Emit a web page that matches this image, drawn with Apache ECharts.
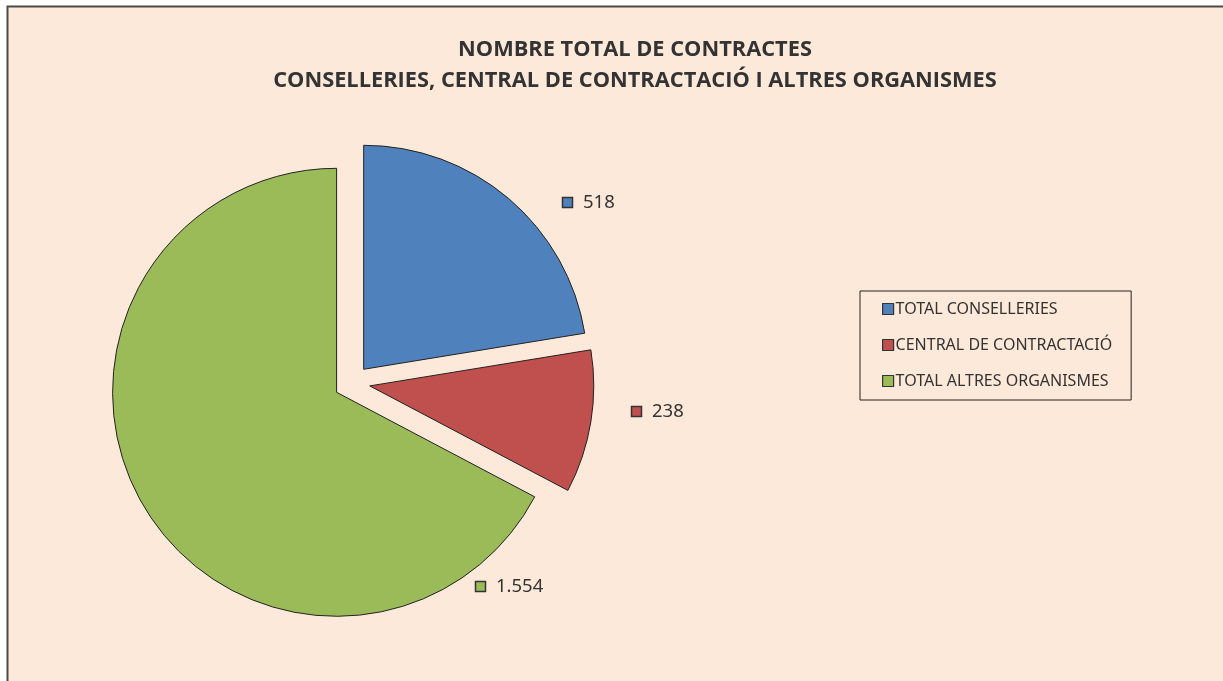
<!DOCTYPE html>
<html lang="ca">
<head>
    <meta charset="UTF-8">
    <title>Nombre total de contractes</title>
    <script src="https://cdn.jsdelivr.net/npm/echarts@6/dist/echarts.min.js"></script>
    <style>
        html, body { margin: 0; padding: 0; background: #ffffff; }
        #main { width: 1223px; height: 681px; }
    </style>
</head>
<body>
<div id="main"></div>
<script type="text/javascript">
    // dades
    var categories = ['TOTAL CONSELLERIES', 'CENTRAL DE CONTRACTACIÓ', 'TOTAL ALTRES ORGANISMES'];
    var values = [518, 238, 1554];
    var colors = ['#4F81BD', '#C0504D', '#9BBB59'];

    // posicio de les etiquetes de valor (quadret + numero), com a l'Excel
    var labelPos = [[562, 203], [631, 412], [475, 587]];

    function fmt(v) {
        return String(v).replace(/\B(?=(\d{3})+(?!\d))/g, '.');
    }

    var pieData = [];
    for (var i = 0; i < categories.length; i++) {
        pieData.push({
            name: categories[i],
            value: values[i],
            selected: true,
            itemStyle: { color: colors[i] }
        });
    }

    // fons del grafic + etiquetes
    var graphics = [{
        type: 'rect',
        z: -10,
        shape: { x: 7.5, y: 6.5, width: 1400, height: 800 },
        style: { fill: '#FDE9D9', stroke: '#4a4a4a', lineWidth: 2 }
    }];
    for (var j = 0; j < values.length; j++) {
        graphics.push({
            type: 'rect',
            z: 10,
            shape: { x: labelPos[j][0] + 0.5, y: labelPos[j][1] - 5.5, width: 10, height: 10 },
            style: { fill: colors[j], stroke: '#333', lineWidth: 1.5 }
        });
        graphics.push({
            type: 'text',
            z: 10,
            x: labelPos[j][0] + 21,
            y: labelPos[j][1],
            style: {
                text: fmt(values[j]),
                fontFamily: 'Noto Sans',
                fontSize: 18.5,
                fill: '#333',
                verticalAlign: 'middle',
                align: 'left'
            }
        });
    }

    var myChart = echarts.init(document.getElementById('main'));
    var option = {
        backgroundColor: '#ffffff',
        animation: false,
        graphic: graphics,
        title: {
            text: 'NOMBRE TOTAL DE CONTRACTES\nCONSELLERIES, CENTRAL DE CONTRACTACIÓ I ALTRES ORGANISMES',
            left: 630,
            textAlign: 'center',
            top: 29,
            textStyle: {
                fontFamily: 'Open Sans',
                fontWeight: 'bold',
                fontSize: 21.8,
                lineHeight: 31,
                color: '#333333'
            }
        },
        legend: {
            orient: 'vertical',
            left: 860,
            top: 291,
            padding: [10, 19, 11, 22],
            itemGap: 20,
            itemWidth: 11,
            itemHeight: 11,
            icon: 'rect',
            borderColor: '#222',
            borderWidth: 1,
            backgroundColor: '#FDE9D9',
            selectedMode: false,
            itemStyle: { borderColor: '#333', borderWidth: 1.2 },
            textStyle: {
                fontFamily: 'Noto Sans',
                fontSize: 16,
                color: '#333',
                padding: [0, 0, 0, -3]
            },
            data: categories
        },
        series: [{
            type: 'pie',
            center: [352, 383],
            radius: 224,
            startAngle: 90,
            clockwise: true,
            selectedMode: 'multiple',
            selectedOffset: 18,
            emphasis: { disabled: true },
            select: { itemStyle: { borderColor: '#222', borderWidth: 1 } },
            itemStyle: { borderColor: '#222', borderWidth: 1 },
            labelLine: { show: false },
            label: { show: false },
            data: pieData
        }]
    };
    myChart.setOption(option);
</script>
</body>
</html>
